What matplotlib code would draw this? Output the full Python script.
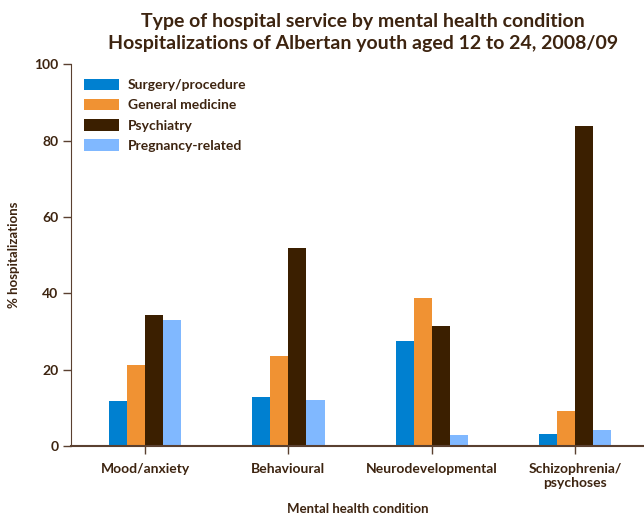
import matplotlib
matplotlib.use("Agg")
import matplotlib.pyplot as plt
import numpy as np

conditions = ["Mood/anxiety", "Behavioural", "Neurodevelopmental", "Schizophrenia/\npsychoses"]
services = ["Surgery/procedure", "General medicine", "Psychiatry", "Pregnancy-related"]
surgery = [11.8, 12.8, 27.5, 3.1]
general = [21.2, 23.6, 38.7, 9.2]
psychiatry = [34.3, 51.8, 31.4, 83.8]
pregnancy = [33.0, 12.0, 2.9, 4.2]

colors = ["#0080D0", "#F09233", "#3B1F00", "#80B8FF"]
text_col = "#3D2410"
axis_col = "#5A4030"

plt.rcParams["font.family"] = ["Lato", "DejaVu Sans"]
plt.rcParams["font.weight"] = "bold"

fig = plt.figure(figsize=(6.44, 5.14), dpi=100)
ax = fig.add_axes([0.111, 0.132, 0.889, 0.743])

x = np.arange(len(conditions))
w = 0.126
series = [surgery, general, psychiatry, pregnancy]
for i, (vals, c, lab) in enumerate(zip(series, colors, services)):
    ax.bar(x + (i - 1.5) * w, vals, w, color=c, label=lab)

ax.set_xlim(-0.513, 3.48)
ax.set_ylim(0, 100)
ax.set_yticks([0, 20, 40, 60, 80, 100])
ax.set_xticks(x)
ax.set_xticklabels(conditions, fontsize=10, fontweight="bold", color=text_col)
ax.tick_params(axis="y", labelsize=10, labelcolor=text_col, color=axis_col, length=6, width=1)
ax.tick_params(axis="x", color=axis_col, length=6, width=1, pad=6)
for lbl in ax.get_yticklabels():
    lbl.set_fontweight("bold")

for s in ["top", "right"]:
    ax.spines[s].set_visible(False)
for s in ["left", "bottom"]:
    ax.spines[s].set_color(axis_col)
ax.spines["bottom"].set_linewidth(1.5)

ax.set_ylabel("% hospitalizations", fontsize=9.5, fontweight="bold", color=text_col, labelpad=10)
ax.set_xlabel("Mental health condition", fontsize=9.5, fontweight="bold", color=text_col, labelpad=10)

leg = ax.legend(loc="upper left", bbox_to_anchor=(0.0, 0.995), frameon=False,
                fontsize=10, handlelength=2.5, handleheight=0.9, labelspacing=0.55,
                handletextpad=0.65)
for t in leg.get_texts():
    t.set_color(text_col)
    t.set_fontweight("bold")

fig.text(0.563, 0.975, "Type of hospital service by mental health condition\n"
         "Hospitalizations of Albertan youth aged 12 to 24, 2008/09",
         ha="center", va="top", fontsize=14, fontweight="bold", color=text_col,
         linespacing=1.4)

fig.savefig("out.png", dpi=100)
